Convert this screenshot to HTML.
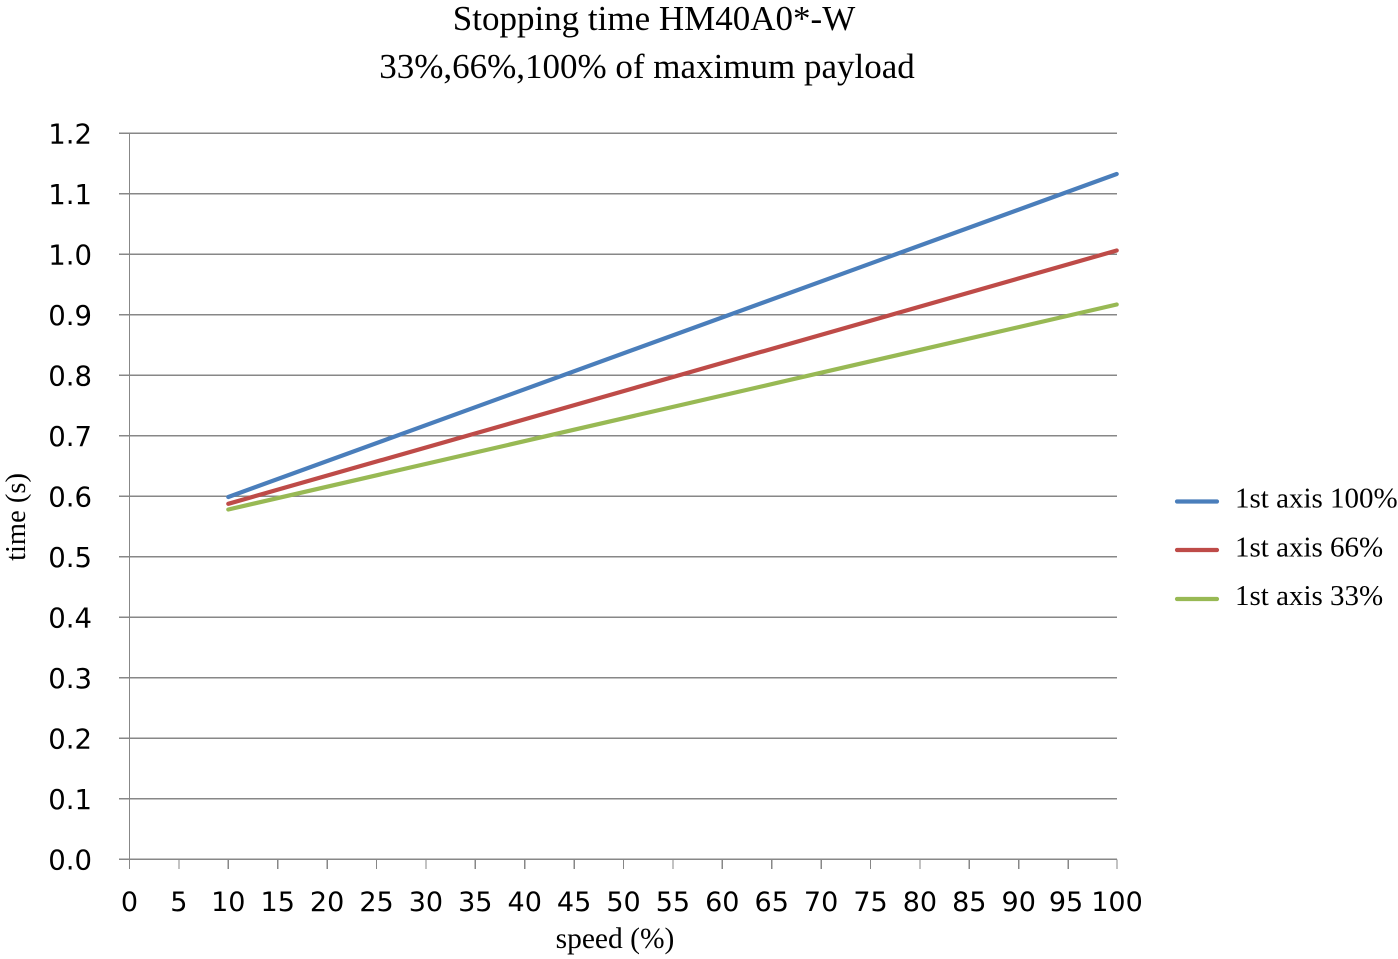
<!DOCTYPE html>
<html>
<head>
<meta charset="utf-8">
<style>
  html, body { margin: 0; padding: 0; background: #ffffff; }
  svg { display: block; }
</style>
</head>
<body>
<svg width="1398" height="959" viewBox="0 0 1398 959" xmlns="http://www.w3.org/2000/svg">
  <rect x="0" y="0" width="1398" height="959" fill="#ffffff"/>

  <!-- Title -->
  <g font-family="'Liberation Serif', 'Times New Roman', serif" font-size="35" fill="#000" text-anchor="middle">
    <text x="654" y="30">Stopping time HM40A0*-W</text>
    <text x="647" y="78">33%,66%,100% of maximum payload</text>
  </g>

  <!-- Horizontal gridlines (with left tick extension) -->
  <g stroke="#878787" stroke-width="1.3" shape-rendering="crispEdges">
    <line x1="119" y1="133.3" x2="1117" y2="133.3"/>
    <line x1="119" y1="193.8" x2="1117" y2="193.8"/>
    <line x1="119" y1="254.3" x2="1117" y2="254.3"/>
    <line x1="119" y1="314.8" x2="1117" y2="314.8"/>
    <line x1="119" y1="375.3" x2="1117" y2="375.3"/>
    <line x1="119" y1="435.8" x2="1117" y2="435.8"/>
    <line x1="119" y1="496.3" x2="1117" y2="496.3"/>
    <line x1="119" y1="556.8" x2="1117" y2="556.8"/>
    <line x1="119" y1="617.3" x2="1117" y2="617.3"/>
    <line x1="119" y1="677.8" x2="1117" y2="677.8"/>
    <line x1="119" y1="738.3" x2="1117" y2="738.3"/>
    <line x1="119" y1="798.8" x2="1117" y2="798.8"/>
    <line x1="119" y1="859.3" x2="1117" y2="859.3"/>
    <!-- Y axis -->
    <line x1="129.5" y1="133.3" x2="129.5" y2="869"/>
    <!-- X ticks -->
    <line x1="178.9" y1="859.3" x2="178.9" y2="869"/>
    <line x1="228.3" y1="859.3" x2="228.3" y2="869"/>
    <line x1="277.7" y1="859.3" x2="277.7" y2="869"/>
    <line x1="327.1" y1="859.3" x2="327.1" y2="869"/>
    <line x1="376.5" y1="859.3" x2="376.5" y2="869"/>
    <line x1="425.9" y1="859.3" x2="425.9" y2="869"/>
    <line x1="475.3" y1="859.3" x2="475.3" y2="869"/>
    <line x1="524.7" y1="859.3" x2="524.7" y2="869"/>
    <line x1="574.1" y1="859.3" x2="574.1" y2="869"/>
    <line x1="623.5" y1="859.3" x2="623.5" y2="869"/>
    <line x1="672.9" y1="859.3" x2="672.9" y2="869"/>
    <line x1="722.3" y1="859.3" x2="722.3" y2="869"/>
    <line x1="771.7" y1="859.3" x2="771.7" y2="869"/>
    <line x1="821.1" y1="859.3" x2="821.1" y2="869"/>
    <line x1="870.5" y1="859.3" x2="870.5" y2="869"/>
    <line x1="919.9" y1="859.3" x2="919.9" y2="869"/>
    <line x1="969.3" y1="859.3" x2="969.3" y2="869"/>
    <line x1="1018.7" y1="859.3" x2="1018.7" y2="869"/>
    <line x1="1068.1" y1="859.3" x2="1068.1" y2="869"/>
    <line x1="1117" y1="859.3" x2="1117" y2="869"/>
  </g>

  <!-- Y tick labels -->
  <g font-family="'DejaVu Sans', 'Liberation Sans', sans-serif" font-size="27.5" fill="#000" text-anchor="end">
    <text x="92" y="143.5">1.2</text>
    <text x="92" y="204">1.1</text>
    <text x="92" y="264.5">1.0</text>
    <text x="92" y="325">0.9</text>
    <text x="92" y="385.5">0.8</text>
    <text x="92" y="446">0.7</text>
    <text x="92" y="506.5">0.6</text>
    <text x="92" y="567">0.5</text>
    <text x="92" y="627.5">0.4</text>
    <text x="92" y="688">0.3</text>
    <text x="92" y="748.5">0.2</text>
    <text x="92" y="809">0.1</text>
    <text x="92" y="869.5">0.0</text>
  </g>

  <!-- X tick labels -->
  <g font-family="'DejaVu Sans', 'Liberation Sans', sans-serif" font-size="27" fill="#000" text-anchor="middle">
    <text x="129.5" y="911">0</text>
    <text x="178.9" y="911">5</text>
    <text x="228.3" y="911">10</text>
    <text x="277.7" y="911">15</text>
    <text x="327.1" y="911">20</text>
    <text x="376.5" y="911">25</text>
    <text x="425.9" y="911">30</text>
    <text x="475.3" y="911">35</text>
    <text x="524.7" y="911">40</text>
    <text x="574.1" y="911">45</text>
    <text x="623.5" y="911">50</text>
    <text x="672.9" y="911">55</text>
    <text x="722.3" y="911">60</text>
    <text x="771.7" y="911">65</text>
    <text x="821.1" y="911">70</text>
    <text x="870.5" y="911">75</text>
    <text x="919.9" y="911">80</text>
    <text x="969.3" y="911">85</text>
    <text x="1018.7" y="911">90</text>
    <text x="1066" y="911">95</text>
    <text x="1117" y="911">100</text>
  </g>

  <!-- Axis titles -->
  <text x="615" y="948" font-family="'Liberation Serif', 'Times New Roman', serif" font-size="29.5" fill="#000" text-anchor="middle">speed (%)</text>
  <text transform="translate(25,517) rotate(-90)" x="0" y="0" font-family="'Liberation Serif', 'Times New Roman', serif" font-size="28.5" fill="#000" text-anchor="middle">time (s)</text>

  <!-- Series -->
  <g fill="none" stroke-width="4.2" stroke-linecap="round" stroke-linejoin="round">
    <line x1="228.3" y1="497" x2="1116.7" y2="174" stroke="#4a7ebb"/>
    <line x1="228.3" y1="503.8" x2="1116.7" y2="250.5" stroke="#be4b48"/>
    <line x1="228.3" y1="509.5" x2="1116.7" y2="304.5" stroke="#98b954"/>
  </g>

  <!-- Legend -->
  <g stroke-width="4.2" stroke-linecap="round">
    <line x1="1177" y1="501.5" x2="1217" y2="501.5" stroke="#4a7ebb"/>
    <line x1="1177" y1="550" x2="1217" y2="550" stroke="#be4b48"/>
    <line x1="1177" y1="599" x2="1217" y2="599" stroke="#98b954"/>
  </g>
  <g font-family="'Liberation Serif', 'Times New Roman', serif" font-size="29" fill="#000">
    <text x="1235" y="507.5">1st axis 100%</text>
    <text x="1235" y="556.5">1st axis 66%</text>
    <text x="1235" y="605">1st axis 33%</text>
  </g>
</svg>
</body>
</html>
